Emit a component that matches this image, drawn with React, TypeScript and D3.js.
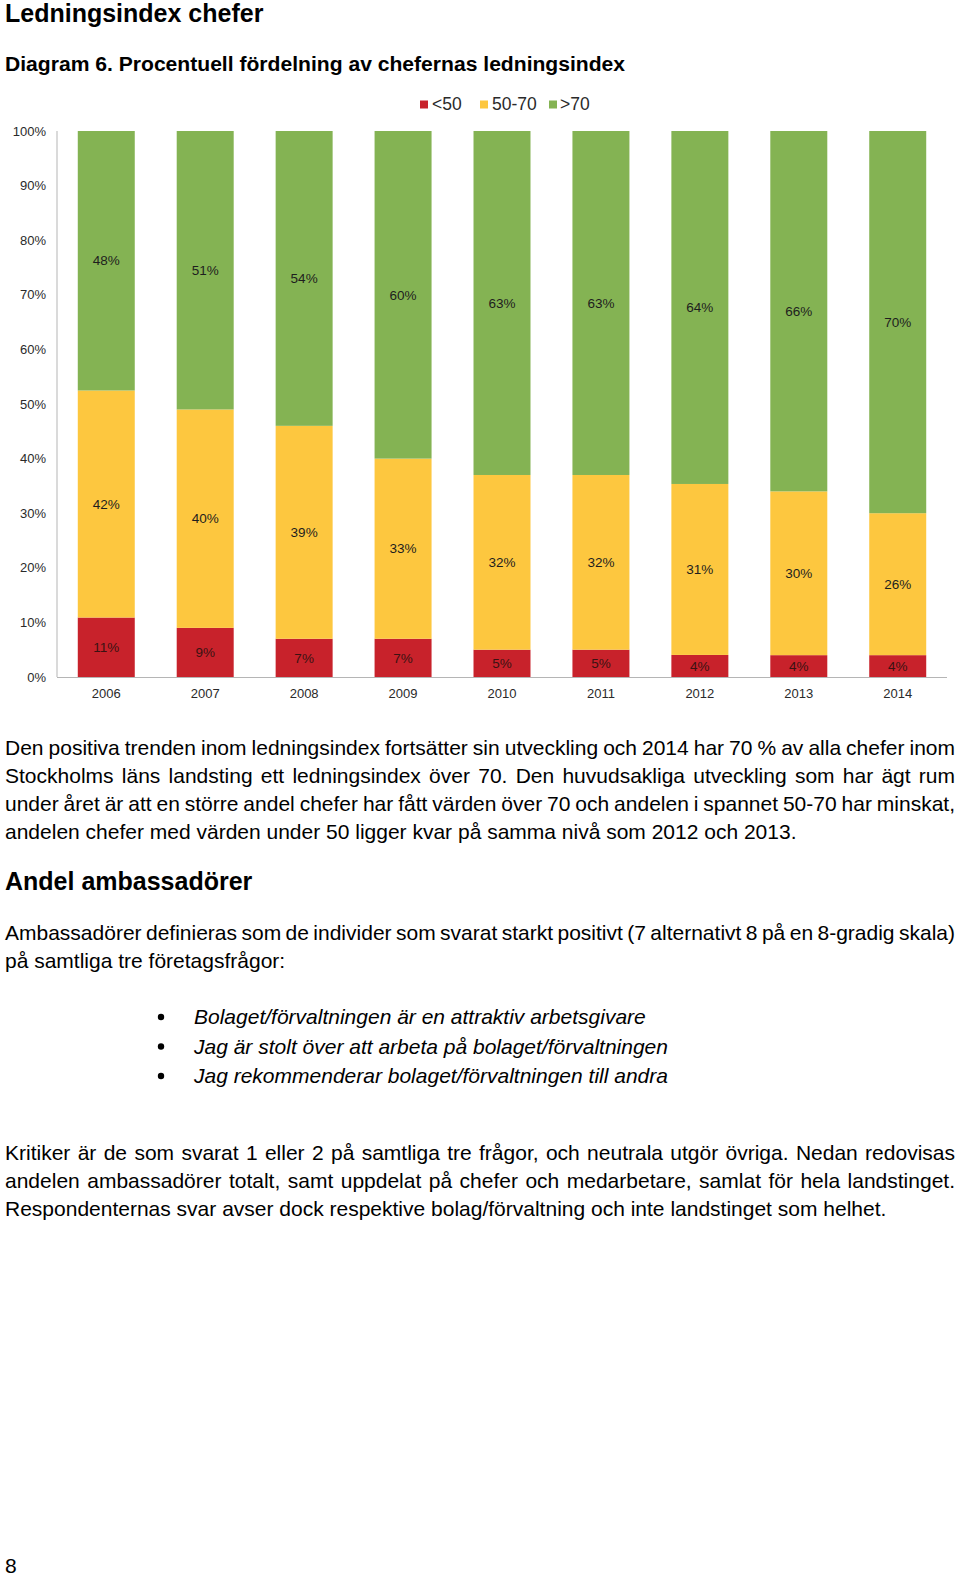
import React from 'react';
import * as d3 from 'd3';

const years = ['2006', '2007', '2008', '2009', '2010', '2011', '2012', '2013', '2014'];
const below50 = [11, 9, 7, 7, 5, 5, 4, 4, 4];
const mid5070 = [42, 40, 39, 33, 32, 32, 31, 30, 26];
const above70 = [48, 51, 54, 60, 63, 63, 64, 66, 70];
const seriesKeys = ['<50', '50-70', '>70'];
const seriesColors = ['#c8222b', '#fdc73f', '#84b353'];
const yTickValues = [0, 0.1, 0.2, 0.3, 0.4, 0.5, 0.6, 0.7, 0.8, 0.9, 1];

const para1 = [
  'Den positiva trenden inom ledningsindex fortsätter sin utveckling och 2014 har 70 % av alla chefer inom',
  'Stockholms läns landsting ett ledningsindex över 70. Den huvudsakliga utveckling som har ägt rum',
  'under året är att en större andel chefer har fått värden över 70 och andelen i spannet 50-70 har minskat,',
  'andelen chefer med värden under 50 ligger kvar på samma nivå som 2012 och 2013.',
];
const para2 = [
  'Ambassadörer definieras som de individer som svarat starkt positivt (7 alternativt 8 på en 8-gradig skala)',
  'på samtliga tre företagsfrågor:',
];
const bullets = [
  'Bolaget/förvaltningen är en attraktiv arbetsgivare',
  'Jag är stolt över att arbeta på bolaget/förvaltningen',
  'Jag rekommenderar bolaget/förvaltningen till andra',
];
const para3 = [
  'Kritiker är de som svarat 1 eller 2 på samtliga tre frågor, och neutrala utgör övriga. Nedan redovisas',
  'andelen ambassadörer totalt, samt uppdelat på chefer och medarbetare, samlat för hela landstinget.',
  'Respondenternas svar avser dock respektive bolag/förvaltning och inte landstinget som helhet.',
];

const FONT = "'Liberation Sans', Arial, Helvetica, sans-serif";

let canvasCtx: CanvasRenderingContext2D | null = null;
function measure(text: string, font: string): number {
  if (!canvasCtx) {
    canvasCtx = document.createElement('canvas').getContext('2d');
  }
  if (!canvasCtx) return text.length * 10;
  canvasCtx.font = font;
  return canvasCtx.measureText(text).width;
}

function Line({ text, x, y, width, justify, size, italic }: any) {
  const style: any = { fontFamily: FONT, fontSize: size, fontStyle: italic ? 'italic' : 'normal', fill: '#000' };
  if (!justify) {
    return <text x={x} y={y} style={style}>{text}</text>;
  }
  const font = `${italic ? 'italic ' : ''}${size}px 'Liberation Sans'`;
  const words = text.split(' ');
  const ws = words.map((w: string) => measure(w, font));
  const sum = ws.reduce((a: number, b: number) => a + b, 0);
  const gap = (width - sum) / (words.length - 1);
  if (gap < 2.5) {
    return (
      <text x={x} y={y} style={style} textLength={width} lengthAdjust="spacingAndGlyphs">
        {text}
      </text>
    );
  }
  let cx = x;
  return (
    <text y={y} style={style}>
      {words.map((w: string, i: number) => {
        const el = (
          <tspan key={i} x={cx}>
            {w}
          </tspan>
        );
        cx += ws[i] + gap;
        return el;
      })}
    </text>
  );
}

export default function App() {
  const data = years.map((year, i) => ({
    year,
    '<50': below50[i],
    '50-70': mid5070[i],
    '>70': above70[i],
  }));
  const rawVals = [below50, mid5070, above70];

  const stack = d3.stack<any>().keys(seriesKeys).offset(d3.stackOffsetExpand);
  const stacked = stack(data);

  const x = d3.scaleBand<string>().domain(years).range([57, 947]).paddingInner(0.424).paddingOuter(0.21);
  const y = d3.scaleLinear().domain([0, 1]).range([677, 131]);
  const pct = d3.format('.0%');

  const legendItems = [
    { key: '<50', sq: 420, tx: 432 },
    { key: '50-70', sq: 480, tx: 492 },
    { key: '>70', sq: 549, tx: 560 },
  ];

  return (
    <div style={{ position: 'absolute', left: 0, top: 0 }}>
      <svg width={960} height={1576} style={{ display: 'block', background: '#fff' }}>
        <text x={5} y={22} style={{ fontFamily: FONT, fontSize: 25, fontWeight: 'bold', fill: '#000' }}>
          Ledningsindex chefer
        </text>
        <text x={5} y={71} style={{ fontFamily: FONT, fontSize: 21.1, fontWeight: 'bold', fill: '#000' }}>
          Diagram 6. Procentuell fördelning av chefernas ledningsindex
        </text>

        {/* legend */}
        {legendItems.map((l, i) => (
          <g key={l.key}>
            <rect x={l.sq} y={100.5} width={8} height={8} fill={seriesColors[i]} />
            <text x={l.tx} y={110} style={{ fontFamily: FONT, fontSize: 17.5, fill: '#2a2a2a' }}>
              {l.key}
            </text>
          </g>
        ))}

        {/* y axis labels */}
        {yTickValues.map((t) => (
          <text
            key={t}
            x={46}
            y={y(t)}
            dy="0.35em"
            textAnchor="end"
            style={{ fontFamily: FONT, fontSize: 13, fill: '#2a2a2a' }}
          >
            {pct(t)}
          </text>
        ))}

        {/* bars */}
        {stacked.map((s, si) => (
          <g key={s.key} fill={seriesColors[si]}>
            {s.map((d, i) => (
              <rect
                key={i}
                x={x(years[i])}
                y={y(d[1])}
                width={x.bandwidth()}
                height={y(d[0]) - y(d[1])}
              />
            ))}
          </g>
        ))}

        {/* value labels */}
        {stacked.map((s, si) => (
          <g key={'l' + s.key}>
            {s.map((d, i) => (
              <text
                key={i}
                x={(x(years[i]) as number) + x.bandwidth() / 2}
                y={(y(d[0]) + y(d[1])) / 2}
                dy="0.35em"
                textAnchor="middle"
                style={{
                  fontFamily: FONT,
                  fontSize: 13.5,
                  fill: si === 0 ? '#3a1212' : '#1e1e1e',
                }}
              >
                {rawVals[si][i]}%
              </text>
            ))}
          </g>
        ))}

        {/* axes */}
        <line x1={57} x2={57} y1={y(1)} y2={y(0)} stroke="#b5b5b5" strokeWidth={1} />
        <line x1={57} x2={947} y1={y(0) + 0.5} y2={y(0) + 0.5} stroke="#b5b5b5" strokeWidth={1} />

        {years.map((yr) => (
          <text
            key={yr}
            x={(x(yr) as number) + x.bandwidth() / 2}
            y={698}
            textAnchor="middle"
            style={{ fontFamily: FONT, fontSize: 13, fill: '#2a2a2a' }}
          >
            {yr}
          </text>
        ))}

        {/* paragraph 1 */}
        {para1.map((t, i) => (
          <Line key={i} text={t} x={5} y={755 + i * 28.1} width={950} justify={i < para1.length - 1} size={21} />
        ))}

        <text x={5} y={890} style={{ fontFamily: FONT, fontSize: 25, fontWeight: 'bold', fill: '#000' }}>
          Andel ambassadörer
        </text>

        {para2.map((t, i) => (
          <Line key={i} text={t} x={5} y={940 + i * 28.1} width={950} justify={i < para2.length - 1} size={21} />
        ))}

        {bullets.map((t, i) => (
          <g key={i}>
            <circle cx={161} cy={1017 + i * 29.5} r={3.2} fill="#000" />
            <Line text={t} x={194} y={1024 + i * 29.5} width={0} justify={false} size={21} italic />
          </g>
        ))}

        {para3.map((t, i) => (
          <Line key={i} text={t} x={5} y={1160 + i * 28.1} width={950} justify={i < para3.length - 1} size={21} />
        ))}

        <text x={5} y={1573} style={{ fontFamily: FONT, fontSize: 21, fill: '#000' }}>
          8
        </text>
      </svg>
    </div>
  );
}
